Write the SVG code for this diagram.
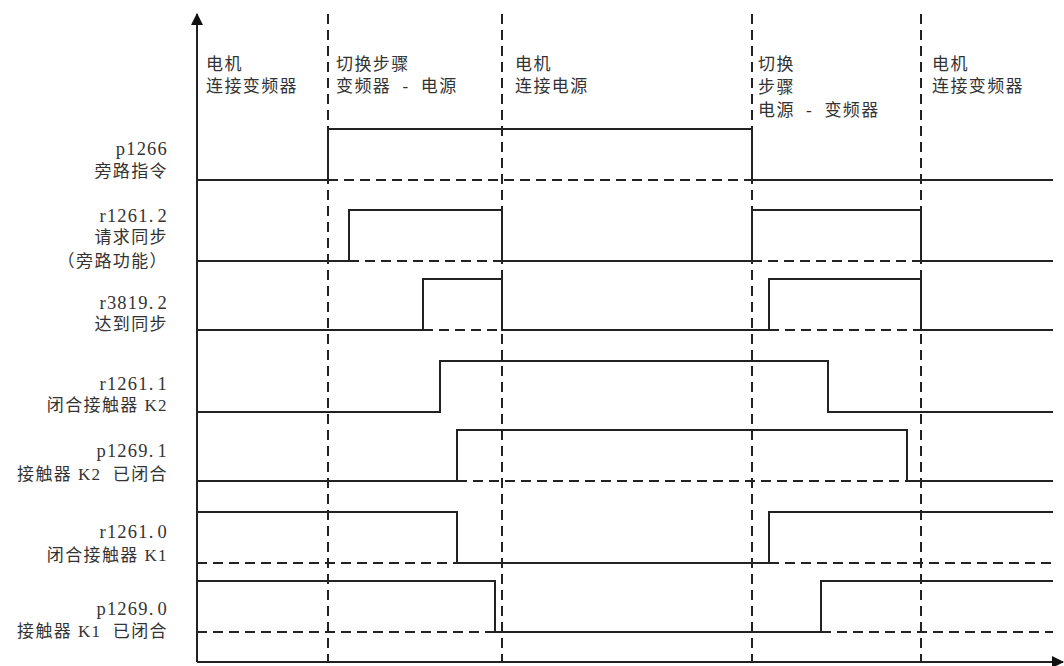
<svg xmlns="http://www.w3.org/2000/svg" width="1064" height="666" viewBox="0 0 1064 666">
<style>
text{font-family:"Liberation Serif","Noto Sans CJK SC",serif;font-size:17px;letter-spacing:1.4px;fill:#333;white-space:pre}
.lbl{text-anchor:end}
.num{font-size:18.5px;letter-spacing:1.2px}
.sig{fill:none;stroke:#222;stroke-width:2}
.dash{fill:none;stroke:#222;stroke-width:2;stroke-dasharray:10 6}
.ax{fill:none;stroke:#222;stroke-width:2}
</style>
<defs>
<marker id="arr" viewBox="0 0 12 12" refX="11" refY="6" markerWidth="12" markerHeight="12" markerUnits="userSpaceOnUse" orient="auto">
<path d="M0,0 L12,6 L0,12 Z" fill="#111"/>
</marker>
</defs>
<rect width="1064" height="666" fill="#fff"/>
<g id="axes">
<line class="ax" x1="197" y1="662" x2="197" y2="14" marker-end="url(#arr)"/>
<line class="ax" x1="197" y1="662" x2="1063" y2="662" marker-end="url(#arr)"/>
</g>
<g id="phase-lines">
<line class="dash" x1="328" y1="14" x2="328" y2="662"/>
<line class="dash" x1="502" y1="14" x2="502" y2="662"/>
<line class="dash" x1="752" y1="14" x2="752" y2="662"/>
<line class="dash" x1="921" y1="14" x2="921" y2="662"/>
</g>
<g id="phase-labels">
<text x="206" y="70">电机</text><text x="206" y="92">连接变频器</text>
<text x="336" y="70">切换步骤</text><text x="336" y="92">变频器  -  电源</text>
<text x="515" y="70">电机</text><text x="515" y="92">连接电源</text>
<text x="758" y="70">切换</text><text x="758" y="93">步骤</text><text x="758" y="116">电源  -  变频器</text>
<text x="932" y="70">电机</text><text x="932" y="92">连接变频器</text>
</g>
<g id="p1266">
<text class="lbl num" x="168" y="155">p1266</text><text class="lbl" x="168" y="177">旁路指令</text>
<polyline class="sig" points="197,180 328,180 328,129 752,129 752,180 1053,180"/>
<line class="dash" x1="328" y1="180" x2="752" y2="180"/>
</g>
<g id="r1261_2">
<text class="lbl num" x="168" y="222">r1261.<tspan dx="3">2</tspan></text><text class="lbl" x="168" y="243">请求同步</text><text class="lbl" x="168" y="267">（旁路功能）</text>
<polyline class="sig" points="197,261 349,261 349,210 502,210 502,261 752,261 752,210 921,210 921,261 1053,261"/>
<line class="dash" x1="349" y1="261" x2="502" y2="261"/>
<line class="dash" x1="752" y1="261" x2="921" y2="261"/>
</g>
<g id="r3819_2">
<text class="lbl num" x="168" y="309">r3819.<tspan dx="3">2</tspan></text><text class="lbl" x="168" y="330">达到同步</text>
<polyline class="sig" points="197,330 423,330 423,279 502,279 502,330 769,330 769,279 921,279 921,330 1053,330"/>
<line class="dash" x1="423" y1="330" x2="502" y2="330"/>
<line class="dash" x1="769" y1="330" x2="921" y2="330"/>
</g>
<g id="r1261_1">
<text class="lbl num" x="168" y="390">r1261.<tspan dx="3">1</tspan></text><text class="lbl" x="168" y="411">闭合接触器 K2</text>
<polyline class="sig" points="197,412 440,412 440,361 828,361 828,412 1053,412"/>
</g>
<g id="p1269_1">
<text class="lbl num" x="168" y="457">p1269.<tspan dx="3">1</tspan></text><text class="lbl" x="168" y="480">接触器 K2  已闭合</text>
<polyline class="sig" points="197,481 457,481 457,430 907,430 907,481 1053,481"/>
<line class="dash" x1="457" y1="481" x2="907" y2="481"/>
</g>
<g id="r1261_0">
<text class="lbl num" x="168" y="538">r1261.<tspan dx="3">0</tspan></text><text class="lbl" x="168" y="561">闭合接触器 K1</text>
<polyline class="sig" points="197,512 457,512 457,563 769,563 769,512 1053,512"/>
<line class="dash" x1="197" y1="563" x2="457" y2="563"/>
<line class="dash" x1="769" y1="563" x2="1053" y2="563"/>
</g>
<g id="p1269_0">
<text class="lbl num" x="168" y="615">p1269.<tspan dx="3">0</tspan></text><text class="lbl" x="168" y="637">接触器 K1  已闭合</text>
<polyline class="sig" points="197,581 495,581 495,632 821,632 821,581 1053,581"/>
<line class="dash" x1="197" y1="632" x2="495" y2="632"/>
<line class="dash" x1="821" y1="632" x2="1053" y2="632"/>
</g>
</svg>
